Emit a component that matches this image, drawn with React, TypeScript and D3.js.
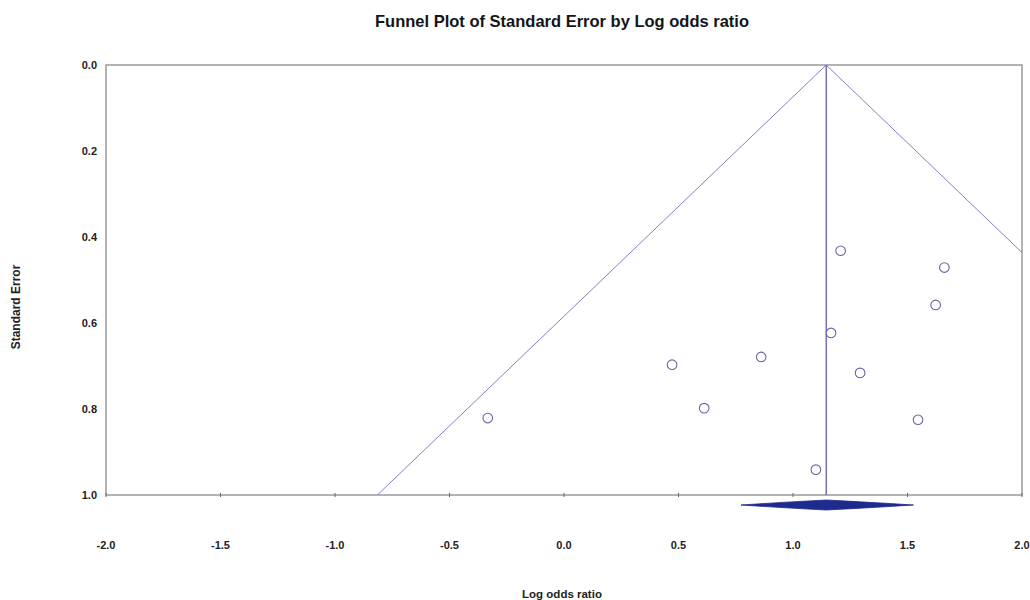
import { useRef, useEffect } from "react";
import * as d3 from "d3";

const W = 1030;
const H = 600;
const margin = { top: 65, right: 8, bottom: 105, left: 106 };

// study log odds ratios and standard errors
const logOdds = [1.208, 1.661, 1.623, 1.166, 0.861, 0.472, 1.293, 0.612, 1.546, 1.1, -0.333];
const stdErr = [0.432, 0.471, 0.558, 0.623, 0.679, 0.697, 0.716, 0.798, 0.825, 0.941, 0.821];

const pooled = 1.145;
const pooledLow = 0.773;
const pooledHigh = 1.526;

const xTicks = [-2.0, -1.5, -1.0, -0.5, 0.0, 0.5, 1.0, 1.5, 2.0];
const yTicks = [0.0, 0.2, 0.4, 0.6, 0.8, 1.0];

const title = "Funnel Plot of Standard Error by Log odds ratio";
const xLabel = "Log odds ratio";
const yLabel = "Standard Error";

export default function App() {
  const svgRef = useRef<SVGSVGElement>(null);

  useEffect(() => {
    const svg = d3.select(svgRef.current);
    svg.selectAll("*").remove();

    const innerW = W - margin.left - margin.right;
    const innerH = H - margin.top - margin.bottom;

    const x = d3.scaleLinear().domain([-2, 2]).range([0, innerW]);
    const y = d3.scaleLinear().domain([0, 1]).range([0, innerH]);

    const font = "Arial, 'Liberation Sans', sans-serif";

    // title
    svg.append("text")
      .attr("x", 562)
      .attr("y", 27)
      .attr("text-anchor", "middle")
      .style("font-family", font)
      .style("font-size", "16.5px")
      .style("font-weight", "bold")
      .style("fill", "#151515")
      .text(title);

    const g = svg.append("g").attr("transform", `translate(${margin.left},${margin.top})`);

    svg.append("defs").append("clipPath").attr("id", "plotclip")
      .append("rect").attr("width", innerW).attr("height", innerH);

    // frame
    g.append("rect")
      .attr("width", innerW)
      .attr("height", innerH)
      .attr("fill", "#fff")
      .attr("stroke", "#8a8a8a")
      .attr("stroke-width", 1.3);

    // x ticks
    g.selectAll(".xtick")
      .data(xTicks)
      .join("line")
      .attr("x1", d => x(d))
      .attr("x2", d => x(d))
      .attr("y1", innerH - 2)
      .attr("y2", innerH + 2)
      .attr("stroke", "#666")
      .attr("stroke-width", 1);

    g.selectAll(".xlab")
      .data(xTicks)
      .join("text")
      .attr("x", d => x(d))
      .attr("y", innerH + 54)
      .attr("text-anchor", "middle")
      .style("font-family", font)
      .style("font-size", "11px")
      .style("font-weight", "bold")
      .style("fill", "#222")
      .text(d => d.toFixed(1));

    g.selectAll(".ylab")
      .data(yTicks)
      .join("text")
      .attr("x", -9)
      .attr("y", d => y(d))
      .attr("dy", "0.35em")
      .attr("text-anchor", "end")
      .style("font-family", font)
      .style("font-size", "11px")
      .style("font-weight", "bold")
      .style("fill", "#222")
      .text(d => d.toFixed(1));

    // funnel
    const funnel = d3.line<[number, number]>()
      .x(d => x(d[0]))
      .y(d => y(d[1]));
    const seMax = 1.2;
    g.append("path")
      .attr("clip-path", "url(#plotclip)")
      .attr("d", funnel([
        [pooled - 1.96 * seMax, seMax],
        [pooled, 0],
        [pooled + 1.96 * seMax, seMax],
      ]))
      .attr("fill", "none")
      .attr("stroke", "#8080c8")
      .attr("stroke-width", 1);

    // pooled estimate line
    g.append("line")
      .attr("x1", x(pooled))
      .attr("x2", x(pooled))
      .attr("y1", y(0))
      .attr("y2", y(1))
      .attr("stroke", "#5050b0")
      .attr("stroke-width", 1.2);

    // studies
    g.selectAll(".pt")
      .data(logOdds)
      .join("circle")
      .attr("cx", d => x(d))
      .attr("cy", (_, i) => y(stdErr[i]))
      .attr("r", 4.8)
      .attr("fill", "#fff")
      .attr("stroke", "#6a62a8")
      .attr("stroke-width", 1.1);

    // pooled diamond
    const dy = innerH + 10;
    const xl = x(pooledLow), xr = x(pooledHigh), xc = x(pooled);
    const hh = 5;
    const diamond = d3.path();
    diamond.moveTo(xl, dy);
    diamond.quadraticCurveTo(xc - 40, dy - 3, xc, dy - hh);
    diamond.quadraticCurveTo(xc + 40, dy - 3, xr, dy);
    diamond.quadraticCurveTo(xc + 40, dy + 3, xc, dy + hh);
    diamond.quadraticCurveTo(xc - 40, dy + 3, xl, dy);
    diamond.closePath();
    g.append("path")
      .attr("d", diamond.toString())
      .attr("fill", "#1e2a8e")
      .attr("stroke", "#1e2a8e")
      .attr("stroke-width", 0.8);

    // axis titles
    svg.append("text")
      .attr("x", 562)
      .attr("y", 598)
      .attr("text-anchor", "middle")
      .style("font-family", font)
      .style("font-size", "11.5px")
      .style("font-weight", "bold")
      .style("fill", "#222")
      .text(xLabel);

    svg.append("text")
      .attr("transform", `translate(20, 307) rotate(-90)`)
      .attr("text-anchor", "middle")
      .style("font-family", font)
      .style("font-size", "12px")
      .style("font-weight", "bold")
      .style("fill", "#222")
      .text(yLabel);
  }, []);

  return (
    <svg
      ref={svgRef}
      width={W}
      height={H}
      style={{ position: "absolute", left: 0, top: 0, background: "#fff" }}
    />
  );
}
